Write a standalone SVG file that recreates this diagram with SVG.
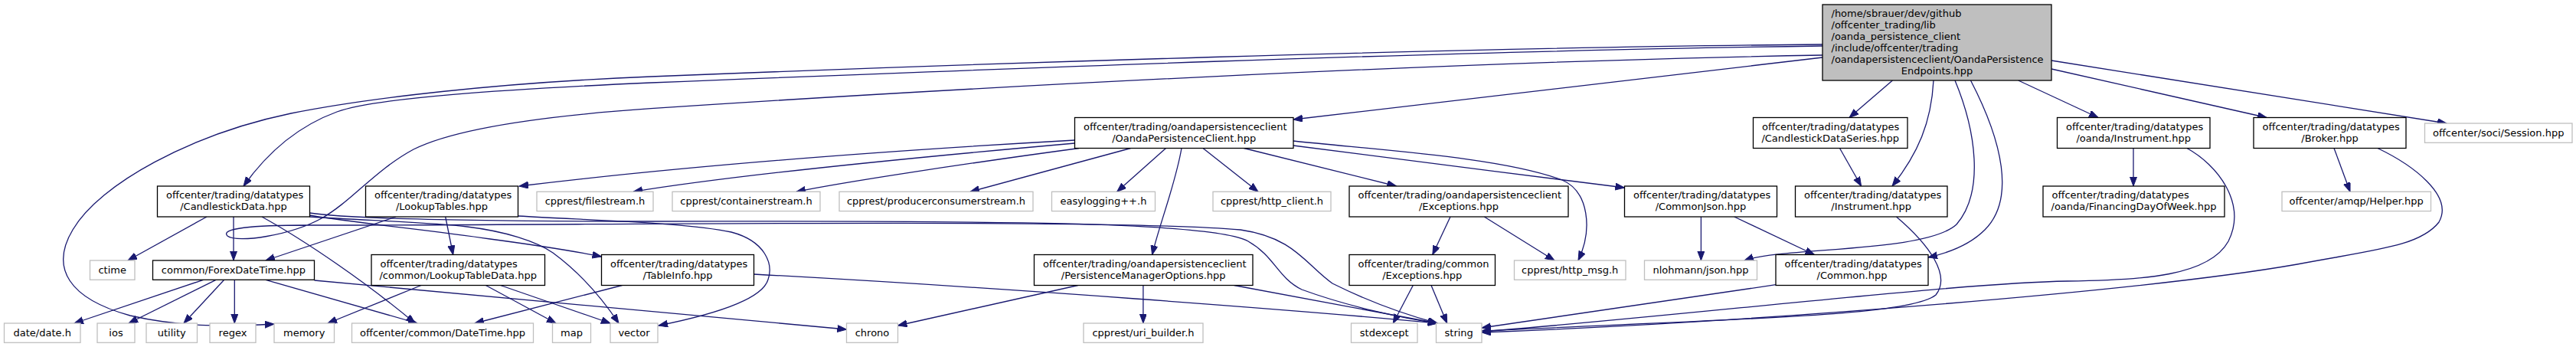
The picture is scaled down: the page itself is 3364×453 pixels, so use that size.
<svg xmlns="http://www.w3.org/2000/svg" width="3364" height="453" viewBox="0 0 3364 453">
<style>
.nb{fill:#ffffff;stroke:#000000;stroke-width:1.3}
.ng{fill:#ffffff;stroke:#bfbfbf;stroke-width:1.3}
.nr{fill:#bfbfbf;stroke:#000000;stroke-width:1.3}
text{font-family:"DejaVu Sans","Liberation Sans",sans-serif;font-size:13px;fill:#000000}
.m{text-anchor:middle}
.e path{fill:none;stroke:#191970;stroke-width:1.3;marker-end:url(#a)}
</style>
<defs>
<marker id="a" markerWidth="14" markerHeight="10" refX="12" refY="4.5" orient="auto" markerUnits="userSpaceOnUse">
<path d="M0,0 L12,4.5 L0,9 z" fill="#191970" stroke="#191970" stroke-width="1"/>
</marker>
</defs>
<rect width="3364" height="453" fill="#ffffff"/>
<g class="e" id="edges">
<path d="M2380,60 C1900,66 1250,92 850,108 C650,117 490,128 440,146 C385,166 345,205 318,243"/>
<path d="M2380,58 C1900,62 1250,84 850,100 C650,108 480,128 380,148 C250,175 130,240 95,300 C65,350 90,390 170,412 C240,428 300,426 358,423"/>
<path d="M2380,72 C1900,80 1250,115 850,141.7 C700,152 590,170 540,195 C490,222 460,262 420,285 C380,307 310,318 297,308 C287,298 330,294 400,294 C800,294 1450,285 1620,300 C1690,310 1705,345 1740,370 C1790,395 1840,412 1877,422"/>
<path d="M404.5,278 C450,285 600,289 850,289 C1200,289 1580,286 1630,315 C1665,335 1668,362 1700,378 C1760,400 1830,415 1877,422"/>
<path d="M404.5,281 C470,292 560,300 640,312 C700,320 750,328 785.5,335"/>
<path d="M404.5,283 C480,288 560,290 610,296 C660,302 700,315 722,330 C760,358 790,395 808,422"/>
<path d="M676.5,282 C780,288 900,291 955,303 C1000,315 1010,345 1003,365 C995,392 925,412 860,425"/>
<path d="M517,283 L347,340"/>
<path d="M581.7,283 L591.7,332.5"/>
<path d="M270,283 L167,340"/>
<path d="M305,283 L305,340"/>
<path d="M342,283 C400,315 480,370 542,422"/>
<path d="M265.6,365.3 L97,422"/>
<path d="M282,365.3 L168,422"/>
<path d="M292.7,365.3 L240,422"/>
<path d="M306.3,365.3 L306.3,422"/>
<path d="M347,365.3 L545,422"/>
<path d="M410.5,366 L1105.5,430"/>
<path d="M550,372.5 L428,422"/>
<path d="M634.4,372.5 L726,422"/>
<path d="M653.6,372.5 L797,422"/>
<path d="M812.4,372.5 L620,422"/>
<path d="M984.5,358 C1300,375 1700,405 1877,422"/>
<path d="M1407.7,372.5 L1172.5,425"/>
<path d="M1492.9,372.5 L1492.9,422"/>
<path d="M1611.7,372.5 L1877,422"/>
<path d="M1403.5,183 C1100,200 850,222 678,243"/>
<path d="M1403.5,187 C1200,205 950,230 827,250.3"/>
<path d="M1409,193.5 C1250,215 1100,238 1040,250.3"/>
<path d="M1476.5,193.5 L1267,250.3"/>
<path d="M1522.5,193.5 L1458.7,250.3"/>
<path d="M1543,193.5 C1535,240 1515,290 1504.6,332.5"/>
<path d="M1571,193.5 L1643,250.3"/>
<path d="M1624.5,193.5 L1823.5,243"/>
<path d="M1689,184 C1800,196 1960,205 2040,235 C2075,250 2080,300 2061,340"/>
<path d="M1689,190 C1820,206 1980,228 2121.5,245"/>
<path d="M2380,75 L1689,156"/>
<path d="M2471.4,105 L2415,153.5"/>
<path d="M2525,105 C2522,160 2505,200 2471,243"/>
<path d="M2553,105 C2580,170 2592,250 2555,293 C2515,330 2330,322 2278,340"/>
<path d="M2573.5,105 C2615,185 2632,260 2592,300 C2572,320 2545,330 2518,336"/>
<path d="M2635.7,105 L2740,153.5"/>
<path d="M2679,90 L2960,153.5"/>
<path d="M2679,79 L3195,161"/>
<path d="M2402.5,193.5 L2430.6,243"/>
<path d="M2221.4,283 L2221.4,340"/>
<path d="M2264.8,283 L2369.4,332.5"/>
<path d="M1894,283 L1870.8,332.5"/>
<path d="M1938.3,283 L2030,340"/>
<path d="M1845.3,372.5 L1819.3,422"/>
<path d="M1869,372.5 L1889.7,422"/>
<path d="M2319,371.7 L1935,428"/>
<path d="M2476.5,283 C2520,320 2548,360 2528,385 C2495,412 2300,415 1935,432"/>
<path d="M2786,193.5 L2786,243"/>
<path d="M2856,193.5 C2895,215 2935,265 2910,315 C2885,360 2800,366 2700,367 C2560,369 2200,412 1935,433"/>
<path d="M3048,193.5 L3069,250.3"/>
<path d="M3105,193.5 C3150,215 3205,255 3185,290 C3160,322 3100,326 3000,345 C2800,380 2300,420 1935,434"/>
</g>
<g id="root"><rect class="nr" x="2380" y="6" width="299" height="99"/>
<text x="2391.5" y="21.8">/home/sbrauer/dev/github</text>
<text x="2391.5" y="36.8">/offcenter_trading/lib</text>
<text x="2391.5" y="51.8">/oanda_persistence_client</text>
<text x="2391.5" y="66.8">/include/offcenter/trading</text>
<text x="2391.5" y="81.8">/oandapersistenceclient/OandaPersistence</text>
<text class="m" x="2529.5" y="96.8">Endpoints.hpp</text></g>
<g id="n_opc"><rect class="nb" x="1403.5" y="153.5" width="285.5" height="40"/>
<text x="1415" y="169.8">offcenter/trading/oandapersistenceclient</text>
<text class="m" x="1546.2" y="184.8">/OandaPersistenceClient.hpp</text></g>
<g id="n_cds"><rect class="nb" x="2289.5" y="153.5" width="201.5" height="40"/>
<text x="2301" y="169.8">offcenter/trading/datatypes</text>
<text class="m" x="2390.2" y="184.8">/CandlestickDataSeries.hpp</text></g>
<g id="n_oinstr"><rect class="nb" x="2686.5" y="153.5" width="199.5" height="40"/>
<text x="2698" y="169.8">offcenter/trading/datatypes</text>
<text class="m" x="2786.2" y="184.8">/oanda/Instrument.hpp</text></g>
<g id="n_broker"><rect class="nb" x="2943" y="153.5" width="199" height="40"/>
<text x="2954.5" y="169.8">offcenter/trading/datatypes</text>
<text class="m" x="3042.5" y="184.8">/Broker.hpp</text></g>
<g id="n_session"><rect class="ng" x="3166.5" y="161" width="192.5" height="25.3"/>
<text class="m" x="3262.7" y="178">offcenter/soci/Session.hpp</text></g>
<g id="n_cd"><rect class="nb" x="205.5" y="243" width="199" height="40"/>
<text x="217" y="259.3">offcenter/trading/datatypes</text>
<text class="m" x="305" y="274.3">/CandlestickData.hpp</text></g>
<g id="n_lt"><rect class="nb" x="477.5" y="243" width="199" height="40"/>
<text x="489" y="259.3">offcenter/trading/datatypes</text>
<text class="m" x="577" y="274.3">/LookupTables.hpp</text></g>
<g id="n_filestream"><rect class="ng" x="701" y="250.3" width="152" height="25.3"/>
<text class="m" x="777" y="267.3">cpprest/filestream.h</text></g>
<g id="n_containerstream"><rect class="ng" x="878" y="250.3" width="193" height="25.3"/>
<text class="m" x="974.5" y="267.3">cpprest/containerstream.h</text></g>
<g id="n_pcs"><rect class="ng" x="1096" y="250.3" width="253" height="25.3"/>
<text class="m" x="1222.5" y="267.3">cpprest/producerconsumerstream.h</text></g>
<g id="n_easylog"><rect class="ng" x="1373.5" y="250.3" width="135" height="25.3"/>
<text class="m" x="1441" y="267.3">easylogging++.h</text></g>
<g id="n_httpclient"><rect class="ng" x="1584" y="250.3" width="154" height="25.3"/>
<text class="m" x="1661" y="267.3">cpprest/http_client.h</text></g>
<g id="n_opcexc"><rect class="nb" x="1762" y="243" width="286" height="40"/>
<text x="1773.5" y="259.3">offcenter/trading/oandapersistenceclient</text>
<text class="m" x="1905" y="274.3">/Exceptions.hpp</text></g>
<g id="n_commonjson"><rect class="nb" x="2121.5" y="243" width="199" height="40"/>
<text x="2133" y="259.3">offcenter/trading/datatypes</text>
<text class="m" x="2221" y="274.3">/CommonJson.hpp</text></g>
<g id="n_instr"><rect class="nb" x="2344.5" y="243" width="198.5" height="40"/>
<text x="2356" y="259.3">offcenter/trading/datatypes</text>
<text class="m" x="2443.7" y="274.3">/Instrument.hpp</text></g>
<g id="n_fdow"><rect class="nb" x="2668" y="243" width="237" height="40"/>
<text x="2679.5" y="259.3">offcenter/trading/datatypes</text>
<text class="m" x="2786.5" y="274.3">/oanda/FinancingDayOfWeek.hpp</text></g>
<g id="n_helper"><rect class="ng" x="2980" y="250.3" width="194.5" height="25.3"/>
<text class="m" x="3077.2" y="267.3">offcenter/amqp/Helper.hpp</text></g>
<g id="n_ctime"><rect class="ng" x="117.5" y="340" width="58.5" height="25.3"/>
<text class="m" x="146.7" y="357">ctime</text></g>
<g id="n_fdt"><rect class="nb" x="199.5" y="340" width="211" height="25.3"/>
<text class="m" x="305" y="357">common/ForexDateTime.hpp</text></g>
<g id="n_ltd"><rect class="nb" x="485" y="332.5" width="226.5" height="40"/>
<text x="496.5" y="348.8">offcenter/trading/datatypes</text>
<text class="m" x="598.2" y="363.8">/common/LookupTableData.hpp</text></g>
<g id="n_ti"><rect class="nb" x="785.5" y="332.5" width="199" height="40"/>
<text x="797" y="348.8">offcenter/trading/datatypes</text>
<text class="m" x="885" y="363.8">/TableInfo.hpp</text></g>
<g id="n_pmo"><rect class="nb" x="1350.5" y="332.5" width="285.5" height="40"/>
<text x="1362" y="348.8">offcenter/trading/oandapersistenceclient</text>
<text class="m" x="1493.2" y="363.8">/PersistenceManagerOptions.hpp</text></g>
<g id="n_cexc"><rect class="nb" x="1762" y="332.5" width="190.5" height="40"/>
<text x="1773.5" y="348.8">offcenter/trading/common</text>
<text class="m" x="1857.2" y="363.8">/Exceptions.hpp</text></g>
<g id="n_httpmsg"><rect class="ng" x="1977.5" y="340" width="145.5" height="25.3"/>
<text class="m" x="2050.2" y="357">cpprest/http_msg.h</text></g>
<g id="n_json"><rect class="ng" x="2147.5" y="340" width="147" height="25.3"/>
<text class="m" x="2221" y="357">nlohmann/json.hpp</text></g>
<g id="n_common"><rect class="nb" x="2319" y="332.5" width="199" height="40"/>
<text x="2330.5" y="348.8">offcenter/trading/datatypes</text>
<text class="m" x="2418.5" y="363.8">/Common.hpp</text></g>
<g id="n_date"><rect class="ng" x="5.5" y="422" width="99.5" height="25.3"/>
<text class="m" x="55.2" y="439">date/date.h</text></g>
<g id="n_ios"><rect class="ng" x="127" y="422" width="49" height="25.3"/>
<text class="m" x="151.5" y="439">ios</text></g>
<g id="n_utility"><rect class="ng" x="191" y="422" width="66.5" height="25.3"/>
<text class="m" x="224.2" y="439">utility</text></g>
<g id="n_regex"><rect class="ng" x="274" y="422" width="60" height="25.3"/>
<text class="m" x="304" y="439">regex</text></g>
<g id="n_memory"><rect class="ng" x="358" y="422" width="78.5" height="25.3"/>
<text class="m" x="397.2" y="439">memory</text></g>
<g id="n_datetime"><rect class="ng" x="459.5" y="422" width="237" height="25.3"/>
<text class="m" x="578" y="439">offcenter/common/DateTime.hpp</text></g>
<g id="n_map"><rect class="ng" x="721.5" y="422" width="50" height="25.3"/>
<text class="m" x="746.5" y="439">map</text></g>
<g id="n_vector"><rect class="ng" x="797" y="422" width="62" height="25.3"/>
<text class="m" x="828" y="439">vector</text></g>
<g id="n_chrono"><rect class="ng" x="1105.5" y="422" width="67" height="25.3"/>
<text class="m" x="1139" y="439">chrono</text></g>
<g id="n_uri"><rect class="ng" x="1415" y="422" width="156" height="25.3"/>
<text class="m" x="1493" y="439">cpprest/uri_builder.h</text></g>
<g id="n_stdexcept"><rect class="ng" x="1764.5" y="422" width="86.5" height="25.3"/>
<text class="m" x="1807.7" y="439">stdexcept</text></g>
<g id="n_string"><rect class="ng" x="1875.5" y="422" width="59.5" height="25.3"/>
<text class="m" x="1905.2" y="439">string</text></g>
</svg>
